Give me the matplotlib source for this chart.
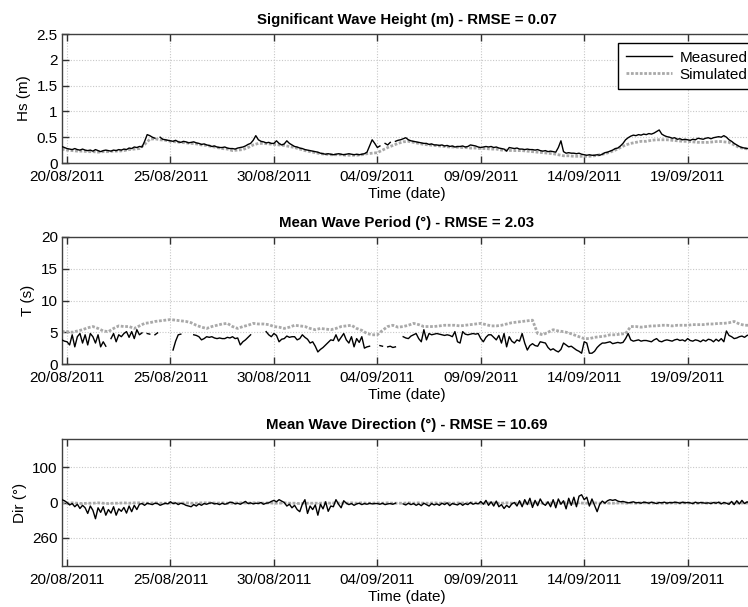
import numpy as np
import pandas as pd
import matplotlib
matplotlib.use("Agg")
import matplotlib.pyplot as plt
import matplotlib.dates as mdates

plt.rcParams['font.family'] = ['Liberation Sans', 'DejaVu Sans']

nan = np.nan

# ---------------- data (3-hourly measured, 6-hourly simulated) ----------------
start_time = "2011-08-19 18:00"

hs_measured = [
    0.32, 0.30,
    0.28, 0.27, 0.26, 0.28, 0.26, 0.25, 0.27, 0.25,
    0.24, 0.25, 0.23, 0.26, 0.24, 0.22, 0.24, 0.25,
    0.24, 0.23, 0.25, 0.24, 0.26, 0.25, 0.27, 0.26,
    0.29, 0.28, 0.31, 0.30, 0.32, 0.31, 0.42, 0.55,
    0.53, 0.50, 0.48, nan, 0.50, 0.46, 0.45, 0.44,
    0.43, 0.42, 0.44, 0.41, 0.40, 0.42, 0.41, 0.39,
    0.40, 0.41, 0.39, 0.38, 0.36, 0.37, 0.35, 0.34,
    0.32, 0.33, 0.31, 0.30, 0.30, 0.31, 0.29, 0.28,
    0.28, 0.27, 0.29, 0.30, 0.31, 0.33, 0.36, 0.38,
    0.44, 0.53, 0.45, 0.42, 0.41, 0.39, 0.40, 0.38,
    0.38, 0.43, 0.38, 0.35, 0.37, 0.43, 0.38, 0.35,
    0.32, 0.31, 0.29, 0.28, 0.26, 0.25, 0.24, 0.23,
    0.22, 0.21, 0.19, 0.18, 0.17, 0.18, 0.17, 0.16,
    0.17, 0.18, 0.17, 0.16, 0.17, 0.18, 0.17, 0.16,
    0.17, 0.16, 0.17, 0.18, 0.21, 0.33, 0.45, 0.38,
    0.30, 0.33, nan, 0.38, 0.35, 0.40, nan, 0.42,
    0.44, 0.45, 0.47, 0.49, 0.45, 0.43, 0.42, 0.41,
    0.40, 0.39, 0.38, 0.38, 0.36, 0.37, 0.35, 0.35,
    0.34, 0.35, 0.33, 0.34, 0.32, 0.33, 0.31, 0.32,
    0.32, 0.33, 0.31, 0.32, 0.35, 0.34, 0.33, 0.31,
    0.30, 0.31, 0.32, 0.31, 0.32, 0.30, 0.31, 0.29,
    0.28, 0.27, 0.23, 0.30, 0.29, 0.28, 0.29, 0.27,
    0.27, 0.26, 0.27, 0.26, 0.26, 0.25, 0.26, 0.24,
    0.23, 0.24, 0.22, 0.23, 0.22, 0.21, 0.30, 0.43,
    0.22, 0.19, 0.20, 0.19, 0.19, 0.18, 0.19, 0.17,
    0.16, 0.15, 0.16, 0.15, 0.15, 0.16, 0.15, 0.17,
    0.20, 0.21, 0.23, 0.25, 0.28, 0.29, 0.33, 0.38,
    0.45, 0.49, 0.52, 0.54, 0.53, 0.55, 0.54, 0.56,
    0.55, 0.57, 0.56, 0.58, 0.61, 0.64, 0.56, 0.53,
    0.51, 0.50, 0.48, 0.49, 0.46, 0.47, 0.45, 0.46,
    0.45, 0.44, 0.46, 0.45, 0.48, 0.47, 0.46, 0.48,
    0.49, 0.47, 0.49, 0.50, 0.51, 0.50, 0.53, 0.50,
    0.45, 0.42, 0.38, 0.35, 0.32, 0.30, 0.29, 0.28,
    0.28,
]

hs_simulated = [
    0.27,
    0.25, 0.24, 0.23, 0.23,
    0.22, 0.22, 0.21, 0.22,
    0.22, 0.23, 0.23, 0.24,
    0.26, 0.27, 0.28, 0.36,
    0.46, 0.47, 0.45, 0.44,
    0.42, 0.41, 0.40, 0.39,
    0.38, 0.37, 0.35, 0.34,
    0.32, 0.30, 0.28, 0.27,
    0.24, 0.25, 0.26, 0.30,
    0.35, 0.38, 0.38, 0.37,
    0.36, 0.35, 0.34, 0.32,
    0.30, 0.27, 0.24, 0.22,
    0.20, 0.18, 0.17, 0.16,
    0.16, 0.16, 0.15, 0.15,
    0.15, 0.16, 0.18, 0.19,
    0.20, 0.25, 0.30, 0.34,
    0.38, 0.41, 0.42, 0.40,
    0.38, 0.36, 0.35, 0.34,
    0.33, 0.32, 0.31, 0.31,
    0.30, 0.30, 0.29, 0.29,
    0.28, 0.28, 0.27, 0.27,
    0.25, 0.25, 0.24, 0.24,
    0.24, 0.23, 0.22, 0.21,
    0.20, 0.19, 0.18, 0.16,
    0.14, 0.14, 0.13, 0.13,
    0.13, 0.13, 0.14, 0.16,
    0.18, 0.21, 0.25, 0.30,
    0.35, 0.38, 0.40, 0.42,
    0.42, 0.44, 0.45, 0.45,
    0.45, 0.44, 0.43, 0.42,
    0.42, 0.41, 0.40, 0.40,
    0.40, 0.41, 0.42, 0.41,
    0.40, 0.35, 0.30, 0.28,
    0.27,
]

t_measured = [
    3.8, 3.6,
    3.5, 3.0, 4.6, 2.7, 4.3, 4.8, 3.3, 4.6,
    3.0, 4.8, 4.3, 3.3, 4.6, 2.7, 3.5, 2.8,
    nan, 4.0, 4.8, 3.5, 4.6, 4.3, 4.8, 5.1,
    4.2, 5.1, 4.0, 5.4, 4.6, 4.9, nan, 4.8,
    4.7, nan, 4.6, 4.9, nan, 4.8, nan, nan,
    nan, 2.2, 3.6, 4.6, 4.7, nan, nan, 4.6,
    nan, 4.6, 4.5, 4.3, 3.8, 4.0, 4.3, 4.2,
    4.3, 4.1, 4.0, 4.1, 4.0, 4.0, 4.2, 4.1,
    4.3, 4.0, 4.1, 3.0, 3.5, 3.8, 4.2, 4.6,
    nan, 4.8, nan, 4.9, nan, 5.1, 4.6, 4.3,
    4.8, 4.5, 3.5, 3.9, 4.0, 4.4, 4.2, 4.3,
    4.3, 3.8, 4.0, 4.6, 4.2, 3.9, 3.3, 3.5,
    2.8, 1.9, 2.3, 2.6, 3.0, 3.4, 3.8, 3.7,
    4.6, 3.6, 4.2, 4.8, 3.8, 3.3, 4.3, 2.7,
    4.0, 3.4, 4.3, 2.5, 2.7, 2.8, nan, nan,
    nan, 2.9, 2.8, nan, 2.7, 2.8, 2.6, 2.7,
    nan, nan, 4.3, 4.1, 4.0, 4.4, 4.6, 4.8,
    4.0, 3.5, 5.4, 3.8, 4.8, 4.6, 4.7, 4.8,
    4.7, 4.6, 4.5, 4.6, 4.5, 4.3, 5.1, 3.5,
    3.3, 5.1, 4.7, 4.6, 4.7, 4.8, 4.7, 4.8,
    4.0, 3.5, 4.2, 4.6, 4.6, 4.2, 3.8, 4.5,
    3.3, 4.8, 2.7, 4.3, 3.6, 3.3, 3.8, 3.6,
    4.8, 3.3, 2.2, 2.9, 3.2, 2.9, 2.8, 3.5,
    3.4, 3.3, 2.6, 2.2, 2.4, 2.1, 1.9, 2.3,
    3.3, 3.0, 2.7, 2.8, 2.5, 2.2, 2.0, 1.7,
    3.5, 3.3, 1.7, 1.7, 2.0, 2.6, 3.0, 3.3,
    3.3, 3.4, 3.5, 3.2, 3.3, 3.4, 3.3, 3.4,
    4.0, 4.8, 3.8, 3.6, 3.7, 3.8, 3.6, 3.7,
    3.7, 3.6, 3.5, 3.8, 4.0, 3.6, 3.5, 3.7,
    3.8, 3.7, 3.6, 3.8, 3.9, 3.7, 3.8, 3.6,
    4.0, 3.7, 3.6, 3.8, 3.7, 3.5, 3.8, 3.6,
    3.9, 3.8, 3.5, 3.9, 3.6, 4.0, 3.5, 5.2,
    4.5, 4.3, 4.0, 4.1, 4.3, 4.4, 4.2, 4.5,
    4.6,
]

t_simulated = [
    5.1,
    5.1, 5.0, 5.2, 5.4,
    5.7, 5.9, 5.6, 5.2,
    5.1, 5.6, 6.0, 5.9,
    5.9, 5.6, 6.0, 6.4,
    6.5, 6.7, 6.8, 6.9,
    7.0, 6.9, 6.8, 6.7,
    6.5, 6.1, 5.8, 5.6,
    5.9, 6.1, 6.3, 6.4,
    5.9, 5.6, 5.9, 6.1,
    6.4, 6.3, 6.3, 6.2,
    5.9, 5.8, 5.6, 5.8,
    6.1, 6.0, 5.9, 5.6,
    5.4, 5.6, 5.5, 5.4,
    5.6, 5.9, 6.0, 6.1,
    5.6, 5.3, 4.8, 4.6,
    4.6, 5.3, 5.9, 6.1,
    5.8, 5.9, 6.1, 6.4,
    6.2, 5.9, 5.9, 5.9,
    6.0, 6.1, 6.1, 6.1,
    6.0, 6.1, 6.2, 6.3,
    6.4, 6.2, 6.0, 6.0,
    6.1, 6.3, 6.5, 6.6,
    6.7, 6.8, 6.9, 4.8,
    4.6, 5.0, 5.4, 5.2,
    5.1, 4.9, 4.6, 4.3,
    4.0, 4.0, 4.2, 4.3,
    4.4, 4.6, 4.6, 4.7,
    4.8, 5.9, 5.9, 5.8,
    5.9, 6.0, 6.0, 6.1,
    6.1, 6.0, 6.1, 6.1,
    6.1, 6.2, 6.2, 6.2,
    6.3, 6.3, 6.4, 6.4,
    6.5, 6.7, 6.3, 6.1,
    6.1,
]

dir_measured = [
    8, 5,
    0, -7, -3, -12, -5, -17, -8, -15,
    -31, -10, -22, -46, -15, -28, -12, -36,
    -20, -30, -12, -36, -18, -25, -14, -30,
    -10, -26, -8, -20, -5, -3, -8, -2,
    -4, -6, -2, -3, -8, -5, -2, -4,
    2, -3, -1, -6, -2, -4, -8, -10,
    -12, -6, -10, -4, -8, -3, -5, -2,
    -1, -4, -3, -6, -2, -5, -3, 1,
    0, -4, -2, -5, -1, 3, -3, -1,
    -4, -2, -3, 0, -5, -2, -1, 3,
    6, 2, 8, 4, 0, -10, -5, -15,
    -8, -20, -26, -5, 8, -31, -10, -20,
    -7, -36, -5, -18, 2, -25, -10, -12,
    8, -5, -15, 5, -2, -6, -3, -8,
    -4, -2, -6, -3, -5, -2, -4, -3,
    -3, -5, -2, -6, -4, -3, -5, -2,
    nan, nan, -4, -7, -2, -6, -3, -8,
    -4, -9, -2, -6, -10, -3, -7, -4,
    -8, -2, -6, -1, -9, -3, -5, -7,
    -2, -8, -3, -6, 0, -5, -2, -4,
    3, -5, 6, -8, 2, -10, 4, -12,
    -6, -17, -8, -14, -4, 0, -10, 5,
    -12, 8, -6, 12, -14, 6, -9, 10,
    -3, -8, 2, -12, 8, -15, 10, -5,
    5, -18, 12, -8, 15, -12, 18, 22,
    8, 15, -10, 10, -8, -26, -5, 4,
    -2, 5, 8, 6, 8, 4, 2, 3,
    1, -1, 0, 2, -1, 0, -2, 1,
    0, -2, 1, -1, -3, 0, -1, 1,
    -2, 0, -1, 1, 0, -2, 1, -1,
    0, -1, -3, 1, -2, 0, -1, -2,
    -1, -3, 0, -2, 1, -4, 0, -2,
    -5, 3, -6, 5, -4, 6, -3, 2,
    -2,
]

dir_simulated = [
    -1,
    -2, -1, -2, -3,
    -2, -2, -1, -2,
    -3, -2, -2, -1,
    -2, -1, -1, -2,
    -2, -1, -2, -2,
    -1, -2, -2, -1,
    -2, -2, -1, -1,
    -1, -2, -1, -2,
    -2, -1, -1, -2,
    -1, -1, -2, -1,
    -2, -2, -1, -2,
    -2, -3, -2, -2,
    -2, -2, -1, -2,
    -1, -2, -2, -1,
    -2, -1, -2, -2,
    -1, -2, -1, -2,
    -2, -2, -1, -2,
    -1, -2, -2, -1,
    -2, -1, -2, -2,
    -1, -2, -1, -1,
    -2, -2, -1, -2,
    -2, -1, -2, -2,
    -1, -2, -2, -1,
    -2, -1, -2, -2,
    -1, -1, -2, -1,
    -2, -2, -1, -2,
    -1, -2, -2, -1,
    -2, -1, -2, -1,
    -1, -2, -1, -2,
    -2, -1, -2, -1,
    -1, -2, -2, -1,
    -2, -1, -1, -2,
    -2, -2, -1, -2,
    -1,
]

tick_dates = ["2011-08-20", "2011-08-25", "2011-08-30", "2011-09-04",
              "2011-09-09", "2011-09-14", "2011-09-19"]
x_range = ["2011-08-19 18:10", "2011-09-22 01:30"]

titles = ["Significant Wave Height (m) - RMSE = 0.07",
          "Mean Wave Period (°) - RMSE = 2.03",
          "Mean Wave Direction (°) - RMSE = 10.69"]
ylabels = ["Hs (m)", "T (s)", "Dir (°)"]
yticks_list = [[0, 0.5, 1, 1.5, 2, 2.5], [0, 5, 10, 15, 20], [100, 0, -100]]
yticklabels_list = [["0", "0.5", "1", "1.5", "2", "2.5"],
                    ["0", "5", "10", "15", "20"],
                    ["100", "0", "260"]]
ylims = [(0, 2.5), (0, 20), (-180, 180)]

# ---------------- plotting ----------------
t_meas = pd.date_range(start_time, periods=len(hs_measured), freq="3h")
t_sim = pd.date_range(start_time, periods=len(hs_simulated), freq="6h")

fig = plt.figure(figsize=(7.48, 6.07), dpi=100)
W, H = 748, 607
left_px = 62
boxes = [(34, 163), (237, 364), (439, 566)]

series = [(hs_measured, hs_simulated), (t_measured, t_simulated),
          (dir_measured, dir_simulated)]

sim_color = "#a9a9a9"
for i, (top, bot) in enumerate(boxes):
    ax = fig.add_axes([left_px / W, 1 - bot / H, 1 - left_px / W + 0.004, (bot - top) / H])
    meas, sim = series[i]
    ax.plot(t_sim, sim, color=sim_color, lw=2.0, ls=(0, (1, 0.6)), label="Simulated", zorder=2)
    ax.plot(t_meas, np.array(meas, dtype=float), color="black", lw=1.0, label="Measured", zorder=3)
    ax.set_xlim(pd.Timestamp(x_range[0]), pd.Timestamp(x_range[1]))
    ax.set_ylim(*ylims[i])
    ax.set_yticks(yticks_list[i])
    ax.set_yticklabels(yticklabels_list[i])
    ax.set_xticks(pd.to_datetime(tick_dates))
    ax.xaxis.set_major_formatter(mdates.DateFormatter("%d/%m/%Y"))
    ax.grid(True, ls=(0, (1, 1.5)), color="#c8c8c8", lw=0.8)
    ax.tick_params(direction="in", length=5, width=1.0, top=True, right=False,
                   labelsize=11, color="#303030")
    ax.tick_params(axis="x", pad=5)
    ax.tick_params(axis="y", pad=3)
    for s in ax.spines.values():
        s.set_color("#404040")
        s.set_linewidth(1.0)
    ax.spines["right"].set_visible(False)
    ax.set_title(titles[i], fontsize=10.8, fontweight="bold", pad=7)
    ax.set_xlabel("Time (date)", fontsize=11, labelpad=2)
    ax.set_ylabel(ylabels[i], fontsize=11, labelpad=4)
    if i == 0:
        h, l = ax.get_legend_handles_labels()
        leg = ax.legend([h[1], h[0]], [l[1], l[0]], loc="upper right",
                        bbox_to_anchor=(1.006, 0.93), borderaxespad=0,
                        fontsize=11, handlelength=3.0, fancybox=False,
                        framealpha=1, edgecolor="black", borderpad=0.5,
                        labelspacing=0.2, handletextpad=0.5)
        leg.get_frame().set_linewidth(1.0)

fig.savefig("out.png", dpi=100)
